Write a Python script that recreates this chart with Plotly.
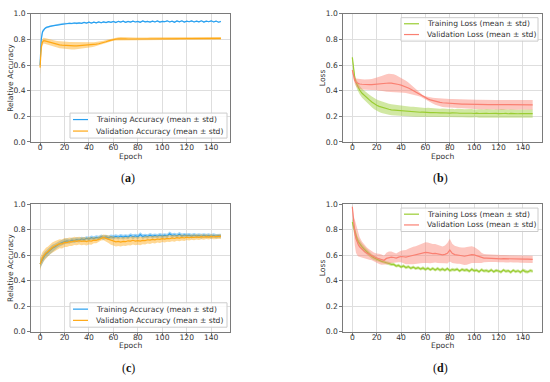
import plotly.graph_objects as go

W, H = 550, 382
EPOCHS = [0, 1, 2, 3, 4, 5] + list(range(6, 149, 2))

# ---------------- (a) accuracy ----------------
A_TRAIN_MEAN = [
    .600, .800, .860, .875, .885, .893, .897, .902, .906, .909,
    .913, .918, .921, .924, .922, .926, .924, .928, .925, .929,
    .925, .933, .927, .934, .928, .935, .929, .936, .930, .937,
    .931, .938, .933, .940, .932, .941, .935, .942, .933, .940,
    .935, .943, .936, .941, .934, .944, .937, .940, .935, .943,
    .936, .944, .935, .941, .938, .945, .936, .942, .934, .944,
    .937, .945, .935, .942, .938, .944, .936, .943, .937, .945,
    .935, .942, .938, .945, .936, .943, .934, .940]
A_TRAIN_STD = [
    .020, .030, .015, .010, .008, .007, .006, .006, .005, .005,
    .005, .005, .006, .005, .005, .006, .005, .005, .006, .005,
    .005, .004, .005, .005, .004, .005, .005, .004, .005, .005,
    .004, .005, .005, .004, .005, .005, .004, .005, .005, .004,
    .005, .005, .004, .005, .005, .004, .005, .005, .004, .005,
    .005, .004, .005, .005, .004, .005, .005, .004, .005, .005,
    .004, .005, .005, .004, .005, .005, .004, .005, .005, .004,
    .005, .005, .004, .005, .005, .004, .005, .005]
A_VAL_MEAN = [
    .580, .740, .780, .790, .788, .785, .782, .778, .772, .766,
    .762, .758, .755, .753, .752, .751, .750, .750, .750, .751,
    .752, .754, .755, .756, .758, .760, .763, .766, .770, .776,
    .782, .788, .794, .799, .802, .805, .806, .805, .804, .803,
    .803, .804, .804, .805, .805, .804, .805, .805, .806, .806,
    .806, .805, .806, .806, .806, .806, .805, .805, .806, .806,
    .807, .807, .807, .807, .807, .807, .808, .808, .808, .808,
    .808, .808, .808, .808, .808, .808, .808, .808]
A_VAL_STD = [
    .060, .040, .025, .022, .022, .022, .022, .023, .024, .025,
    .026, .027, .028, .028, .029, .029, .029, .028, .027, .026,
    .025, .023, .022, .020, .019, .018, .017, .016, .015, .014,
    .013, .012, .011, .010, .010, .011, .012, .012, .011, .010,
    .010, .009, .010, .010, .009, .010, .010, .009, .010, .010,
    .010, .010, .009, .010, .010, .011, .012, .012, .011, .010,
    .010, .009, .010, .010, .009, .010, .010, .009, .010, .010,
    .009, .010, .010, .009, .010, .010, .009, .010]

# ---------------- (b) loss ----------------
B_TRAIN_MEAN = [
    .660, .560, .500, .465, .440, .420, .405, .380, .360, .345,
    .328, .312, .298, .287, .278, .271, .264, .259, .255, .251,
    .249, .246, .245, .242, .241, .238, .238, .236, .236, .234,
    .234, .232, .232, .230, .231, .229, .230, .228, .229, .227,
    .228, .226, .227, .225, .227, .224, .226, .224, .225, .223,
    .225, .223, .224, .222, .225, .222, .224, .221, .224, .222,
    .224, .221, .223, .221, .224, .222, .223, .220, .223, .221,
    .223, .220, .222, .221, .223, .220, .222, .221]
B_TRAIN_STD = [
    .010, .020, .025, .028, .030, .032, .033, .035, .037, .038,
    .040, .042, .043, .045, .045, .045, .044, .044, .043, .043,
    .042, .042, .041, .040, .040, .039, .039, .038, .038, .037,
    .037, .036, .036, .035, .035, .035, .034, .034, .034, .033,
    .033, .033, .032, .033, .032, .032, .033, .032, .032, .033,
    .032, .032, .033, .032, .032, .033, .032, .032, .033, .032,
    .032, .033, .032, .032, .033, .032, .032, .033, .032, .032,
    .033, .032, .032, .033, .032, .032, .033, .032]
B_VAL_MEAN = [
    .560, .510, .480, .465, .460, .455, .452, .450, .448, .447,
    .447, .448, .450, .452, .455, .457, .459, .460, .460, .459,
    .457, .453, .448, .443, .437, .430, .421, .411, .400, .388,
    .376, .365, .355, .345, .336, .328, .322, .317, .312, .309,
    .306, .304, .302, .300, .299, .298, .297, .296, .295, .295,
    .294, .294, .293, .293, .293, .292, .292, .292, .292, .291,
    .291, .291, .291, .290, .290, .290, .290, .290, .290, .290,
    .290, .290, .290, .290, .290, .290, .290, .290]
B_VAL_STD = [
    .010, .020, .025, .030, .035, .037, .038, .040, .040, .040,
    .042, .043, .045, .048, .053, .058, .064, .069, .072, .073,
    .072, .068, .063, .058, .053, .048, .042, .036, .030, .024,
    .018, .013, .010, .012, .015, .018, .022, .026, .029, .031,
    .033, .034, .035, .036, .036, .036, .037, .037, .037, .037,
    .037, .038, .037, .038, .037, .038, .037, .038, .037, .038,
    .037, .038, .037, .038, .037, .038, .037, .038, .037, .038,
    .037, .038, .037, .038, .037, .038, .037, .038]

# ---------------- (c) accuracy ----------------
C_TRAIN_MEAN = [
    .530, .550, .570, .585, .600, .610, .620, .640, .655, .665,
    .680, .690, .700, .705, .712, .708, .718, .714, .722, .718,
    .728, .722, .733, .727, .738, .730, .740, .734, .745, .738,
    .744, .737, .746, .740, .748, .741, .750, .742, .749, .743,
    .755, .745, .752, .744, .762, .746, .753, .747, .757, .748,
    .755, .749, .758, .750, .757, .751, .768, .754, .760, .752,
    .765, .751, .759, .753, .757, .750, .758, .751, .756, .749,
    .757, .750, .755, .748, .756, .749, .754, .750]
C_TRAIN_STD = [
    .035, .035, .033, .032, .030, .030, .030, .028, .027, .025,
    .023, .022, .021, .020, .020, .019, .019, .018, .018, .018,
    .017, .018, .016, .018, .017, .019, .016, .018, .017, .019,
    .016, .018, .017, .019, .016, .018, .017, .019, .016, .018,
    .017, .019, .016, .018, .017, .019, .016, .018, .017, .019,
    .016, .018, .017, .019, .016, .018, .017, .019, .016, .018,
    .017, .019, .016, .018, .017, .019, .016, .018, .017, .019,
    .016, .018, .017, .019, .016, .018, .017, .019]
C_VAL_MEAN = [
    .530, .560, .580, .595, .610, .620, .625, .645, .660, .672,
    .680, .690, .688, .700, .698, .706, .704, .712, .709, .714,
    .708, .712, .707, .713, .711, .718, .716, .724, .736, .740,
    .732, .726, .716, .712, .705, .708, .703, .709, .706, .713,
    .710, .717, .711, .714, .710, .716, .715, .721, .718, .724,
    .721, .727, .724, .730, .726, .732, .729, .735, .731, .737,
    .734, .739, .735, .741, .737, .742, .739, .744, .740, .745,
    .741, .746, .742, .747, .743, .746, .744, .747]
C_VAL_STD = [
    .050, .045, .045, .042, .042, .040, .040, .040, .040, .038,
    .037, .036, .035, .035, .034, .033, .032, .032, .031, .030,
    .030, .030, .030, .029, .028, .025, .022, .020, .020, .022,
    .026, .030, .033, .035, .036, .036, .035, .035, .034, .034,
    .033, .033, .032, .032, .032, .031, .031, .030, .030, .029,
    .029, .028, .028, .027, .027, .026, .026, .025, .025, .024,
    .024, .023, .023, .022, .022, .021, .021, .020, .020, .020,
    .019, .019, .019, .018, .018, .018, .018, .018]

# ---------------- (d) loss ----------------
D_TRAIN_MEAN = [
    .860, .820, .780, .750, .725, .705, .690, .665, .645, .625,
    .605, .590, .578, .568, .560, .552, .547, .538, .535, .528,
    .528, .515, .520, .508, .516, .503, .511, .498, .507, .496,
    .503, .492, .500, .488, .499, .486, .497, .484, .496, .483,
    .492, .482, .495, .479, .488, .484, .491, .476, .489, .481,
    .486, .474, .490, .478, .483, .471, .487, .476, .480, .472,
    .485, .470, .481, .476, .468, .484, .473, .479, .466, .482,
    .471, .478, .466, .483, .472, .469, .480, .474]
D_TRAIN_STD = [
    .030, .030, .030, .030, .028, .028, .027, .025, .023, .021,
    .020, .019, .018, .017, .016, .015, .015, .014, .014, .013,
    .013, .012, .013, .012, .013, .012, .013, .012, .013, .012,
    .013, .012, .013, .012, .013, .012, .013, .012, .013, .012,
    .013, .012, .013, .012, .013, .012, .013, .012, .013, .012,
    .013, .012, .013, .012, .013, .012, .013, .012, .013, .012,
    .013, .012, .013, .012, .013, .012, .013, .012, .013, .012,
    .013, .012, .013, .012, .013, .012, .013, .012]
D_VAL_MEAN = [
    .980, .860, .780, .730, .700, .680, .665, .645, .628, .615,
    .605, .595, .585, .578, .572, .565, .560, .575, .580, .585,
    .582, .578, .585, .590, .588, .585, .590, .595, .598, .600,
    .605, .612, .618, .622, .620, .615, .612, .615, .610, .605,
    .603, .607, .615, .640, .615, .605, .600, .598, .596, .592,
    .595, .600, .605, .602, .595, .588, .580, .577, .578, .576,
    .575, .574, .575, .573, .572, .573, .572, .571, .572, .571,
    .570, .571, .570, .570, .569, .570, .569, .568]
D_VAL_STD = [
    .020, .050, .100, .110, .100, .090, .075, .060, .050, .045,
    .040, .035, .035, .035, .040, .040, .035, .045, .050, .045,
    .040, .035, .040, .045, .050, .055, .060, .065, .068, .070,
    .072, .075, .078, .080, .080, .078, .075, .072, .070, .068,
    .066, .070, .080, .090, .075, .070, .066, .064, .065, .068,
    .070, .068, .065, .062, .058, .050, .040, .032, .030, .030,
    .029, .030, .028, .029, .030, .028, .029, .030, .028, .029,
    .030, .028, .029, .030, .028, .029, .030, .028]

X_TICKS = [0, 20, 40, 60, 80, 100, 120, 140]
Y_TICKS = [0.0, 0.2, 0.4, 0.6, 0.8, 1.0]

ACC_LABELS = ["Training Accuracy (mean \u00b1 std)", "Validation Accuracy (mean \u00b1 std)"]
LOSS_LABELS = ["Training Loss (mean \u00b1 std)", "Validation Loss (mean \u00b1 std)"]

BLUE = (40, 160, 240)
ORANGE = (255, 168, 20)
GREEN = (154, 205, 50)
RED = (250, 128, 114)

FONT = "DejaVu Sans"
FS = 7.6
TXT = "#333333"


def rgb(c, a=1.0):
    return f"rgba({c[0]},{c[1]},{c[2]},{a})"


def fx(p):
    return p / W


def fy(p):
    return 1 - p / H


panels = [
    dict(n="", box=(31, 230, 10, 141.3), ylab="Relative Accuracy",
         series=[(A_TRAIN_MEAN, A_TRAIN_STD, BLUE), (A_VAL_MEAN, A_VAL_STD, ORANGE)],
         labels=ACC_LABELS, leg=(70, 227, 111.7, 137.3), cap="a", capxy=(128, 178)),
    dict(n="2", box=(343.3, 541.7, 10, 141.3), ylab="Loss",
         series=[(B_TRAIN_MEAN, B_TRAIN_STD, GREEN), (B_VAL_MEAN, B_VAL_STD, RED)],
         labels=LOSS_LABELS, leg=(401, 538, 14, 38), cap="b", capxy=(440, 178)),
    dict(n="3", box=(31, 230, 205, 335.7), ylab="Relative Accuracy",
         series=[(C_TRAIN_MEAN, C_TRAIN_STD, BLUE), (C_VAL_MEAN, C_VAL_STD, ORANGE)],
         labels=ACC_LABELS, leg=(70, 227, 306, 331), cap="c", capxy=(128, 373)),
    dict(n="4", box=(343.3, 541.7, 205, 335.7), ylab="Loss",
         series=[(D_TRAIN_MEAN, D_TRAIN_STD, GREEN), (D_VAL_MEAN, D_VAL_STD, RED)],
         labels=LOSS_LABELS, leg=(401, 538, 209, 233), cap="d", capxy=(440, 373)),
]

fig = go.Figure()
shapes = []
annotations = []
layout = {}

for p in panels:
    xa = "x" + p["n"]
    ya = "y" + p["n"]
    for mean, std, col in p["series"]:
        assert len(mean) == len(EPOCHS) and len(std) == len(EPOCHS)
        upper = [m + s for m, s in zip(mean, std)]
        lower = [m - s for m, s in zip(mean, std)]
        fig.add_trace(go.Scatter(
            x=EPOCHS + EPOCHS[::-1], y=upper + lower[::-1], fill="toself",
            fillcolor=rgb(col, 0.45), line=dict(width=0), mode="lines",
            hoverinfo="skip", showlegend=False, xaxis=xa, yaxis=ya))
        fig.add_trace(go.Scatter(
            x=EPOCHS, y=mean, mode="lines", line=dict(color=rgb(col), width=1.2),
            showlegend=False, xaxis=xa, yaxis=ya))

    x0, x1, t, b = p["box"]
    axcommon = dict(showline=True, mirror=True, linecolor="#7a7a7a", linewidth=1,
                    showgrid=True, gridcolor="#dedede", gridwidth=1, zeroline=False,
                    ticks="outside", ticklen=3, tickcolor="#7a7a7a",
                    tickfont=dict(family=FONT, size=FS, color=TXT))
    layout["xaxis" + p["n"]] = dict(domain=[fx(x0), fx(x1)], anchor=ya,
                                    range=[-7.4, 155.4], tickvals=X_TICKS,
                                    ticklabelstandoff=-5, **axcommon)
    layout["yaxis" + p["n"]] = dict(domain=[fy(b), fy(t)], anchor=xa,
                                    range=[0, 1], tickvals=Y_TICKS, tickformat=".1f", **axcommon)

    annotations.append(dict(xref="paper", yref="paper", x=fx((x0 + x1) / 2), y=fy(b + 14.5),
                            text="Epoch", showarrow=False, xanchor="center", yanchor="middle",
                            font=dict(family=FONT, size=FS, color=TXT)))
    annotations.append(dict(xref="paper", yref="paper", x=fx(x0 - 20), y=fy((t + b) / 2),
                            text=p["ylab"], textangle=-90, showarrow=False,
                            xanchor="center", yanchor="middle",
                            font=dict(family=FONT, size=FS, color=TXT)))

    lx0, lx1, lt, lb = p["leg"]
    shapes.append(dict(type="rect", xref="paper", yref="paper",
                       x0=fx(lx0), x1=fx(lx1), y0=fy(lb), y1=fy(lt),
                       line=dict(color="#cccccc", width=1),
                       fillcolor="rgba(255,255,255,0.85)", layer="above"))
    rows = [lt + (lb - lt) * 0.26, lt + (lb - lt) * 0.72]
    for (mean, std, col), lab, ry in zip(p["series"], p["labels"], rows):
        shapes.append(dict(type="line", xref="paper", yref="paper",
                           x0=fx(lx0 + 3), x1=fx(lx0 + 18), y0=fy(ry), y1=fy(ry),
                           line=dict(color=rgb(col), width=1.2), layer="above"))
        annotations.append(dict(xref="paper", yref="paper", x=fx(lx0 + 24), y=fy(ry),
                                text=lab, showarrow=False, xanchor="left", yanchor="middle",
                                font=dict(family=FONT, size=FS, color=TXT)))

    cx, cy = p["capxy"]
    annotations.append(dict(xref="paper", yref="paper", x=fx(cx), y=fy(cy),
                            text="(<b>" + p["cap"] + "</b>)", showarrow=False,
                            xanchor="center", yanchor="middle",
                            font=dict(family="Liberation Serif", size=12, color="#111111")))

fig.update_layout(
    width=W, height=H, margin=dict(l=0, r=0, t=0, b=0),
    paper_bgcolor="white", plot_bgcolor="white",
    showlegend=False, shapes=shapes, annotations=annotations, **layout)

fig.write_html("out.html", config={"displayModeBar": False},
               post_script="document.body.style.margin='0';document.body.style.overflow='hidden';")
